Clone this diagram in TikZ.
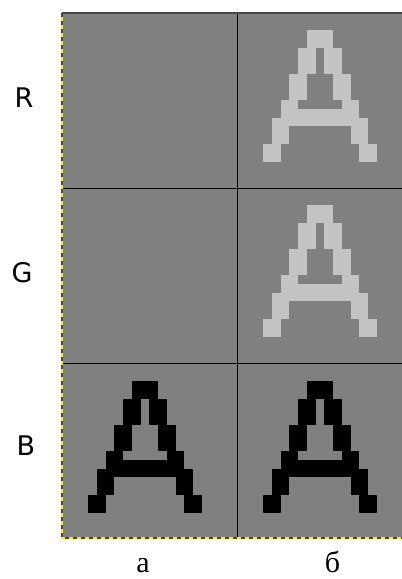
\documentclass[tikz,border=0pt]{standalone}
\usepackage{fontspec}
\newfontfamily\chanfont{DejaVu Sans}
\newfontfamily\capfont{Liberation Serif}
\usetikzlibrary{positioning}
\definecolor{cellgray}{RGB}{128,128,128}
\definecolor{pixlight}{RGB}{195,195,195}
\definecolor{selyellow}{RGB}{255,240,0}
\definecolor{seldark}{RGB}{70,70,70}

% pixel letter A, 13x15 pixels, top-left corner at (#1,#2)
\newcommand{\pixelA}[3]{%
  \begin{scope}[shift={(#1,#2)}, x=8.77pt, y=-8.77pt]
    \foreach \ax/\ay/\bx/\by in {5/0/8/2, 4/2/6/5, 7/2/9/5, 3/5/5/8, 8/5/10/8,
        2/8/4/10, 9/8/11/10, 2/9/11/11, 1/10/3/13, 10/10/12/13, 0/13/2/15, 11/13/13/15}
      \fill[#3] (\ax,\ay) rectangle (\bx,\by);
  \end{scope}}

\begin{document}
\begin{tikzpicture}[
      x=1pt, y=-1pt,
      cell/.style={fill=cellgray},
      gridline/.style={draw=black, line width=0.9pt},
      chan/.style={font=\chanfont\fontsize{27}{27}\selectfont, inner sep=0pt},
      colcap/.style={font=\capfont\fontsize{30}{30}\selectfont, inner sep=0pt, anchor=base}
    ]
      \useasboundingbox (0,0) rectangle (402,579);

      \fill[cell] (62,13) rectangle (402,538);

      \pixelA{263}{30}{pixlight}
      \pixelA{263}{205}{pixlight}
      \pixelA{88}{381}{black}
      \pixelA{263}{381}{black}

      \draw[gridline] (237,13) -- (237,538);
      \draw[gridline] (62,188) -- (402,188);
      \draw[gridline] (62,363) -- (402,363);
      \draw[seldark, line width=1.2pt] (62,13) -- (402,13);

      % selection border
      \draw[selyellow, line width=1.2pt] (62,13) -- (62,538) -- (402,538);
      \draw[seldark, line width=1.2pt, dash pattern=on 4pt off 4pt] (62,13) -- (62,538) -- (402,538);

      \node[chan] (lblR) at (24,98) {R};
      \node[chan] (lblG) at (22,273) {G};
      \node[chan] (lblB) at (26,446) {B};

      \node[colcap] (capa) at (143,572) {а};
      \node[colcap] (capb) at (332.5,572) {б};
    \end{tikzpicture}
\end{document}
